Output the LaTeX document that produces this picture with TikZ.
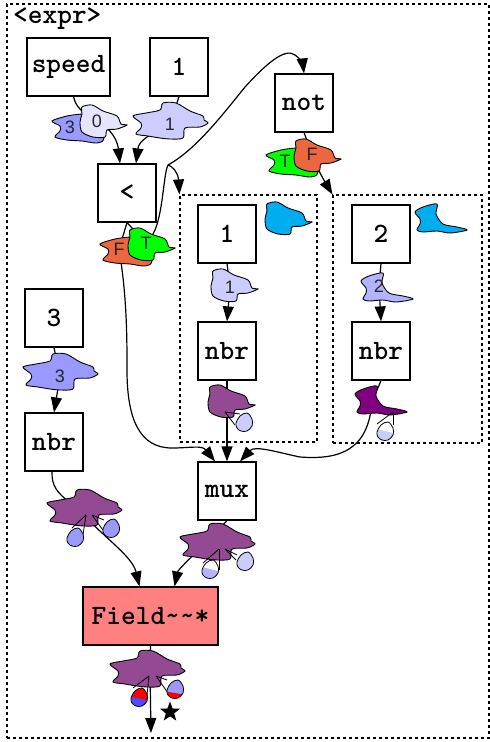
\documentclass[tikz,border=0pt]{standalone}
\usepackage{fontspec}
\setsansfont{Liberation Sans}
\usetikzlibrary{arrows.meta,backgrounds,shapes.geometric}

\definecolor{valblue}{HTML}{9999FF}
\definecolor{valpale}{HTML}{E5E5FF}
\definecolor{vallight}{HTML}{CCCCFF}
\definecolor{valmid}{HTML}{B3B3FF}
\definecolor{valorange}{HTML}{EC6640}
\definecolor{valpurple}{HTML}{934A93}
\definecolor{fieldred}{HTML}{FF8080}

\tikzset{
  opbox/.style={draw, fill=white, line width=1.2pt, minimum width=58pt, minimum height=58pt, inner sep=0pt, font=\ttfamily\bfseries\fontsize{28}{28}\selectfont},
  cluster/.style={draw, dashed, dash pattern=on 3pt off 3pt, line width=1.1pt, inner sep=0pt},
  vallabel/.style={inner sep=0pt, font=\sffamily\fontsize{18}{18}\selectfont, text=black!85},
  blobline/.style={draw, line width=0.9pt},
  flow/.style={line width=1.2pt, -{Triangle[length=15pt,width=11pt]}},
  link/.style={line width=1.2pt},
}

\newcommand{\shapewide}{plot[smooth cycle, tension=0.5] coordinates {(0,14) (13,11) (27,8) (30,1) (43,1) (57,9) (70,14) (71,18) (75,21) (67,25) (52,26) (50,36) (37,37) (27,36) (15,34) (3,32) (8,26) (8,21)}}
\newcommand{\shapenarrow}{plot[smooth cycle, tension=0.5] coordinates {(2,9) (2,2) (12,0) (23,6) (37,11) (41,19) (47,20) (37,24) (27,25) (25,32) (13,32) (2,27) (0,17)}}
\newcommand{\shapeleft}{plot[smooth cycle, tension=0.5] coordinates {(0,8) (15,3) (30,1) (50,0) (52,25) (45,30) (30,28) (15,27) (3,24) (8,18) (8,13)}}
\newcommand{\shapetail}{plot[smooth cycle, tension=0.5] coordinates {(0,8) (8,3) (22,0) (21,10) (28,20) (42,23) (52,26) (35,29) (22,27) (8,28) (2,26) (5,20) (5,15)}}
\newcommand{\shapedrop}{plot[smooth cycle, tension=0.6] coordinates {(-8,1) (-4,-6) (3,-9) (8,-3) (8,4) (3,9) (-3,9) (-7,6)}}

% name, top left, outline, colour, label position, label
\newcommand{\valblob}[6]{
  \draw[blobline, fill=#4, shift={(#2)}] #3;
  \node[vallabel] (#1) at (#6) {#5};
}
% apex, wedge ends, centre, upper colour, lower colour, level left, level right
\newcommand{\valdrop}[8]{
  \draw[line width=0.8pt] (#1) -- (#2);
  \draw[line width=0.8pt] (#1) -- (#3);
  \begin{scope}[shift={(#4)}]
    \fill[#5] \shapedrop;
    \begin{scope}
      \clip \shapedrop;
      \fill[#6] (-12,#7) -- (12,#8) -- (12,12) -- (-12,12) -- cycle;
    \end{scope}
    \draw[line width=0.8pt] \shapedrop;
  \end{scope}
}

\begin{document}
\begin{tikzpicture}[x=1pt, y=-1pt]
\useasboundingbox (0,0) rectangle (490,742);

\node [cluster, minimum width=482pt, minimum height=734pt] (expr) at (248,371) {};
\node [anchor=west, inner sep=0pt, font=\ttfamily\bfseries\fontsize{28}{28}\selectfont] (exprname) at (13,19) {<expr>};
\node [cluster, minimum width=137pt, minimum height=247pt] (branchA) at (248.5,318.5) {};
\node [cluster, minimum width=149pt, minimum height=248pt] (branchB) at (407.5,319) {};

\node [opbox, minimum width=83pt] (speed) at (68.5,67) {speed};
\node [opbox] (one) at (179,67) {1};
\node [opbox] (less) at (127,193) {<};
\node [opbox] (not) at (304,103) {not};
\node [opbox] (oneB) at (227,234) {1};
\node [opbox] (two) at (381,234) {2};
\node [opbox] (nbrA) at (227,351) {nbr};
\node [opbox] (nbrB) at (381,351) {nbr};
\node [opbox] (three) at (54,318) {3};
\node [opbox] (nbrC) at (54,442) {nbr};
\node [opbox] (mux) at (227,491) {mux};
\node [opbox, minimum width=135pt, fill=fieldred] (field) at (150.5,616) {Field\string~\string~*};

\valblob{valthree}{52,113}{\shapeleft}{valblue}{3}{70,127}
\valblob{valzero}{80,105}{\shapenarrow}{valpale}{0}{97,121}
\valblob{valone}{133,102}{\shapewide}{vallight}{1}{170,124}
\valblob{lessF}{100,236}{\shapeleft}{valorange}{F}{119,249}
\valblob{lessT}{128,228}{\shapenarrow}{green}{T}{146,243}
\valblob{notT}{266,147}{\shapeleft}{green}{T}{285,161}
\valblob{notF}{294,139}{\shapenarrow}{valorange}{F}{312,154}
\valblob{typeA}{265,202}{\shapenarrow}{cyan}{}{285,218}
\valblob{typeB}{415,204}{\shapetail}{cyan}{}{435,218}
\valblob{valoneB}{211,269}{\shapenarrow}{vallight}{1}{230,287}
\valblob{valtwo}{361,273}{\shapetail}{valmid}{2}{379,286}
\valblob{valnbrA}{208,385}{\shapenarrow}{valpurple}{}{227,400}
\valblob{valnbrB}{355,386}{\shapetail}{violet!100!black}{}{372,402}
\valblob{valthreeB}{23,353}{\shapewide}{valblue}{3}{60,376}
\valblob{valnbrC}{47,489}{\shapewide}{valpurple}{}{80,510}
\valblob{valmux}{180,523}{\shapewide}{valpurple}{}{204,545}
\valblob{valfield}{110,650}{\shapewide}{valpurple}{}{150,670}

\valdrop{225,412}{240,414}{235,425}{244,422}{vallight}{vallight}{20}{20}
\valdrop{393,412}{377,424}{393,425}{385,431}{white}{vallight}{-3}{3}
\valdrop{86,515}{72,528}{83,535}{75,537}{valblue}{valblue}{20}{20}
\valdrop{92,515}{104,520}{105,533}{111,528}{valblue}{valblue}{20}{20}
\valdrop{219,549}{203,563}{219,570}{210,569}{white}{valmid}{-3}{3}
\valdrop{225,549}{237,555}{236,560}{245,561}{vallight}{vallight}{20}{20}
\valdrop{149,676}{133,688}{147,695}{139,697}{red}{blue!70!white}{-1}{4}
\valdrop{156,676}{167,680}{168,693}{175,689}{valblue}{red}{2}{6}

\node [star, star points=5, star point ratio=2.4, fill=black, inner sep=0pt, minimum size=21pt] (result) at (170,712) {};
\coordinate (out) at (151,733);
\coordinate (split) at (168,165);

\begin{scope}[on background layer]
\draw [link] ([xshift=5pt]speed.south) .. controls (75,103) and (78,110) .. (valzero);
\draw [link] (one.south) -- (valone);
\draw [flow] (valzero) .. controls (115,133) and (118,145) .. ([xshift=-7pt]less.north);
\draw [flow] (valone) .. controls (150,135) and (139,140) .. ([xshift=9pt]less.north);
\draw [link] (less.south) -- (lessF);
\draw [link] (less.south) -- (lessT);
\draw [link] (lessT) .. controls (163,222) and (163,175) .. (split);
\draw [flow] (split) .. controls (195,150) and (220,118) .. (245,87) .. controls (265,65) and (285,47) .. (295,55) .. controls (300,58) and (303,65) .. (not.north);
\draw [flow] (split) .. controls (172,166) and (178,172) .. (branchA.north west);
\draw [flow] (lessF) .. controls (127,300) and (127,340) .. (127,370) .. controls (127,420) and (140,448) .. (172,448) .. controls (190,448) and (202,445) .. ([xshift=-12pt]mux.north);
\draw [link] (not.south) -- (notF);
\draw [flow] (notF) .. controls (318,170) and (325,182) .. (branchB.north west);
\draw [link] (oneB.south) -- (valoneB);
\draw [flow] (valoneB) -- (nbrA.north);
\draw [link] (two.south) -- (valtwo);
\draw [flow] (valtwo) -- (nbrB.north);
\draw [link] (nbrA.south) -- (valnbrA);
\draw [flow] (valnbrA) -- (mux.north);
\draw [link] (nbrB.south) -- (valnbrB);
\draw [flow] (valnbrB) .. controls (368,450) and (340,460) .. (300,457) .. controls (280,453) and (255,445) .. ([xshift=13pt]mux.north);
\draw [link] (three.south) -- (valthreeB);
\draw [flow] (valthreeB) -- (nbrC.north);
\draw [link] ([xshift=-2pt]nbrC.south) .. controls (52,485) and (54,492) .. (valnbrC);
\draw [flow] (valnbrC) .. controls (100,535) and (132,555) .. ([xshift=-11pt]field.north);
\draw [link] (mux.south) -- (valmux);
\draw [flow] (valmux) .. controls (188,560) and (178,570) .. ([xshift=24pt]field.north);
\draw [link] (field.south) -- (valfield);
\draw [flow] (valfield) -- (out);
\end{scope}
\end{tikzpicture}
\end{document}
